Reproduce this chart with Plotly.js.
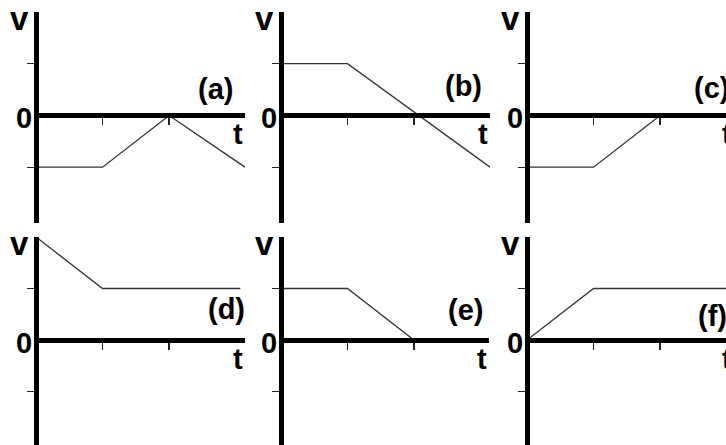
<!DOCTYPE html>
<html>
<head>
<meta charset="utf-8">
<script src="https://cdn.plot.ly/plotly-3.0.1.min.js"></script>
<style>
  html, body { margin: 0; padding: 0; background: #fff; }
  #chart { width: 726px; height: 445px; }
</style>
</head>
<body>
<div id="chart"></div>
<script>
// v-t graphs, one per panel
var tA = [0, 1, 2, 3.14], vA = [-1, -1, 0, -1];
var tB = [0, 1, 3.14],    vB = [1, 1, -1];
var tC = [0, 1, 2],       vC = [-1, -1, 0];
var tD = [0, 1, 3.07],    vD = [2, 1, 1];
var tE = [0, 1, 2],       vE = [1, 1, 0];
var tF = [0, 1, 2.99],    vF = [0, 1, 1];

var panelNames = ['(a)', '(b)', '(c)', '(d)', '(e)', '(f)'];
var vTicks = [-1, 1];
var tTicks = [1, 2];

var series = [[tA, vA], [tB, vB], [tC, vC], [tD, vD], [tE, vE], [tF, vF]];

var W = 726, H = 445;
function fx(p) { return p / W; }
function fy(p) { return 1 - p / H; }

// axes frames in pixels + label nudges
var frames = [
  {l: 36,  r: 245, t: 12,  b: 223, tmax: 3.14, vmin: -2.08, nx: -9.5, ny: 26.5, tx: 0},
  {l: 281, r: 490, t: 12,  b: 223, tmax: 3.14, vmin: -2.08, nx: -5.5, ny: 29.5, tx: 0},
  {l: 527, r: 726, t: 12,  b: 223, tmax: 2.99, vmin: -2.08, nx: 5.5,  ny: 27,   tx: 8.5},
  {l: 36,  r: 245, t: 237, b: 445, tmax: 3.14, vmin: -2.04, nx: 2.5,  ny: 31,   tx: 0},
  {l: 281, r: 489, t: 237, b: 445, tmax: 3.13, vmin: -2.04, nx: -3.5, ny: 30,   tx: 0},
  {l: 527, r: 726, t: 237, b: 445, tmax: 2.99, vmin: -2.04, nx: 3.5,  ny: 24,   tx: 8.5}
];

var font = 'Liberation Sans, Arial, sans-serif';
var data = [];
var layout = {
  width: W, height: H,
  margin: {l: 0, r: 0, t: 0, b: 0},
  paper_bgcolor: '#fff',
  plot_bgcolor: 'rgba(0,0,0,0)',
  showlegend: false,
  hovermode: false,
  annotations: []
};

frames.forEach(function (f, i) {
  var n = i + 1;
  var xa = 'x' + n, ya = 'y' + n;
  var vmax = 2;
  var yDom = [fy(f.b), fy(f.t)];
  var zeroPos = yDom[0] + (0 - f.vmin) / (vmax - f.vmin) * (yDom[1] - yDom[0]);

  data.push({
    x: series[i][0], y: series[i][1],
    xaxis: xa, yaxis: ya,
    mode: 'lines',
    line: {color: '#333', width: 1.3},
    hoverinfo: 'skip'
  });

  layout['xaxis' + n] = {
    domain: [fx(f.l), Math.min(1, fx(f.r))],
    range: [0, f.tmax],
    anchor: 'free', position: zeroPos,
    showline: true, linewidth: 5, linecolor: '#000',
    ticks: 'outside', tickvals: tTicks, ticklen: 7, tickwidth: 1.3, tickcolor: '#222',
    showticklabels: false, showgrid: false, zeroline: false, fixedrange: true
  };
  layout['yaxis' + n] = {
    domain: yDom,
    range: [f.vmin, vmax],
    anchor: 'free', position: fx(f.l),
    showline: true, linewidth: 5, linecolor: '#000',
    ticks: 'outside', tickvals: vTicks, ticklen: 7, tickwidth: 1.3, tickcolor: '#222',
    showticklabels: false, showgrid: false, zeroline: false, fixedrange: true
  };

  var base = {xref: xa, yref: ya, showarrow: false, yanchor: 'middle',
              font: {family: font, size: 29, color: '#000', weight: 'bold'}};
  layout.annotations.push(
    Object.assign({}, base, {text: 'v', x: 0, y: vmax, xanchor: 'right', xshift: -5, yshift: -6,
                             font: {family: font, size: 33, color: '#000', weight: 'bold'}}),
    Object.assign({}, base, {text: '0', x: 0, y: 0, xanchor: 'right', xshift: -2.5, yshift: -3}),
    Object.assign({}, base, {text: 't', x: f.tmax * 0.999, y: 0, xanchor: 'right', xshift: f.tx, yshift: -19}),
    Object.assign({}, base, {text: panelNames[i], x: f.tmax * 0.999, y: 0, xanchor: 'right',
                             xshift: f.nx, yshift: f.ny})
  );
});

Plotly.newPlot('chart', data, layout, {staticPlot: true, displayModeBar: false});
</script>
</body>
</html>
